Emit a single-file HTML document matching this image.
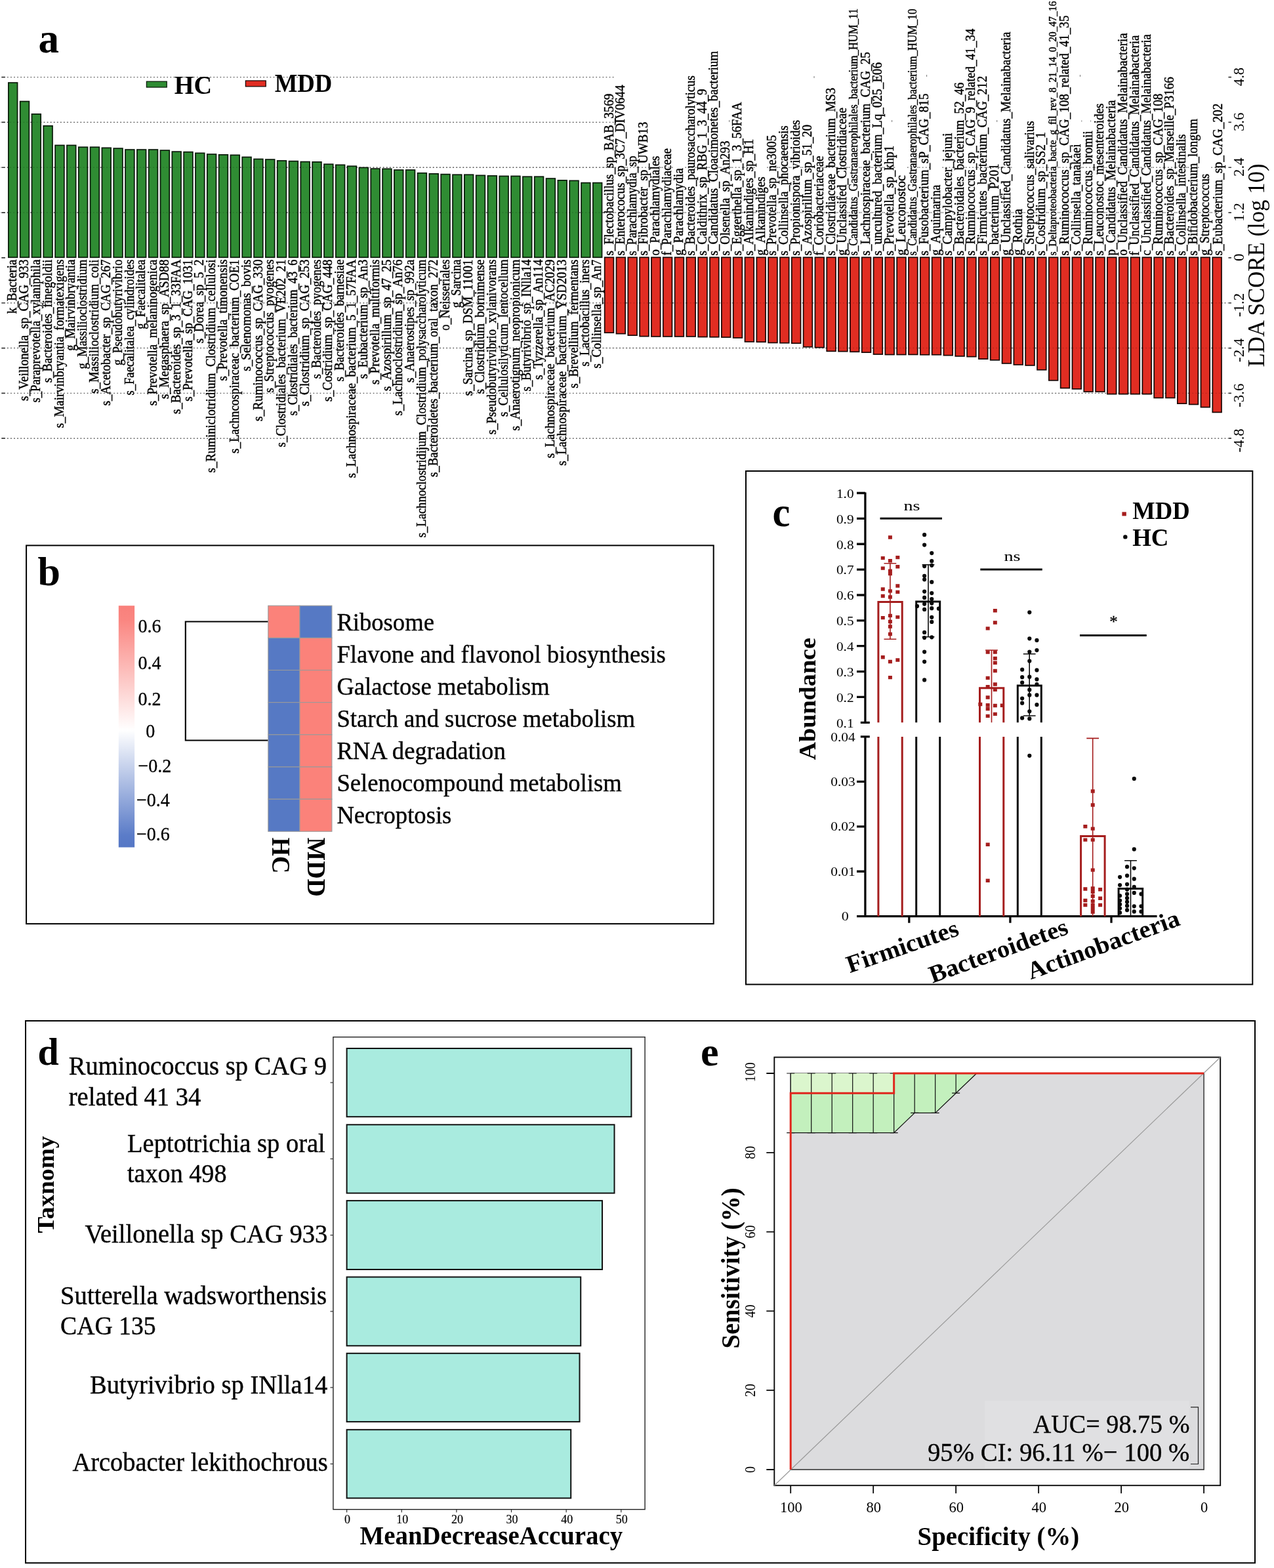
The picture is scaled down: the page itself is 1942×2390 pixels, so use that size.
<!DOCTYPE html>
<html lang="en"><head><meta charset="utf-8"><title>Gut microbiome figure: LEfSe, KEGG heatmap, phylum abundance, random forest and ROC</title>
<style>html,body{margin:0;padding:0;background:#fff}body{width:1942px;height:2390px;overflow:hidden}svg{display:block}text{font-family:"Liberation Serif","Times New Roman",serif;fill:#000}</style>
</head><body>
<svg width="1942" height="2390" viewBox="0 0 1942 2390">
<rect width="1942" height="2390" fill="#fff"/>
<g id="panel-a">
<g stroke="#585858" stroke-width="1.4" stroke-dasharray="1.7 3.37" fill="none">
<path d="M11 117.58H937"/>
<path d="M11 186.41H937"/>
<path d="M11 255.24H937"/>
<path d="M11 324.07H937"/>
<path d="M11 461.73H1872"/>
<path d="M11 530.56H1872"/>
<path d="M11 599.39H1872"/>
<path d="M11 668.22H1872"/>
<path d="M919.62 255.24h17.82M937.44 255.24h17.82M955.26 255.24h17.82M973.08 255.24h17.82M990.9 255.24h17.82M1008.72 255.24h17.82M1044.36 255.24h17.82M1062.18 255.24h17.82M1080 255.24h17.82M1097.82 255.24h17.82M1115.64 255.24h17.82M1133.46 255.24h17.82M1169.1 255.24h17.82M1186.92 255.24h17.82M1204.74 255.24h17.82M1222.56 255.24h17.82M1240.38 255.24h17.82M1258.2 255.24h17.82M1276.02 255.24h17.82M1293.84 255.24h17.82M1311.66 255.24h17.82M1329.48 255.24h17.82M1347.3 255.24h17.82M1382.94 255.24h17.82M1400.76 255.24h17.82M1436.4 255.24h17.82M1454.22 255.24h17.82M1472.04 255.24h17.82M1489.86 255.24h17.82M1507.68 255.24h17.82M1525.5 255.24h17.82M1561.14 255.24h17.82M1578.96 255.24h17.82M1596.78 255.24h17.82M1614.6 255.24h17.82M1632.42 255.24h17.82M1650.24 255.24h17.82M1668.06 255.24h17.82M1685.88 255.24h17.82M1703.7 255.24h17.82M1721.52 255.24h17.82M1739.34 255.24h17.82M1757.16 255.24h17.82M1774.98 255.24h17.82M1792.8 255.24h17.82M1810.62 255.24h17.82M1846.26 255.24h17.82" stroke-opacity="0.8"/>
<path d="M919.62 324.07h17.82M937.44 324.07h17.82M955.26 324.07h17.82M973.08 324.07h17.82M990.9 324.07h17.82M1008.72 324.07h17.82M1026.54 324.07h17.82M1044.36 324.07h17.82M1062.18 324.07h17.82M1080 324.07h17.82M1097.82 324.07h17.82M1115.64 324.07h17.82M1133.46 324.07h17.82M1151.28 324.07h17.82M1169.1 324.07h17.82M1186.92 324.07h17.82M1204.74 324.07h17.82M1222.56 324.07h17.82M1240.38 324.07h17.82M1258.2 324.07h17.82M1276.02 324.07h17.82M1293.84 324.07h17.82M1311.66 324.07h17.82M1329.48 324.07h17.82M1347.3 324.07h17.82M1365.12 324.07h17.82M1382.94 324.07h17.82M1400.76 324.07h17.82M1418.58 324.07h17.82M1436.4 324.07h17.82M1454.22 324.07h17.82M1472.04 324.07h17.82M1489.86 324.07h17.82M1507.68 324.07h17.82M1525.5 324.07h17.82M1543.32 324.07h17.82M1561.14 324.07h17.82M1578.96 324.07h17.82M1596.78 324.07h17.82M1614.6 324.07h17.82M1632.42 324.07h17.82M1650.24 324.07h17.82M1668.06 324.07h17.82M1685.88 324.07h17.82M1703.7 324.07h17.82M1721.52 324.07h17.82M1739.34 324.07h17.82M1757.16 324.07h17.82M1774.98 324.07h17.82M1792.8 324.07h17.82M1810.62 324.07h17.82M1828.44 324.07h17.82M1846.26 324.07h17.82" stroke-opacity="0.8"/>
</g>
<path d="M1412.6 114v3M1359.6 183v3M1519.7 183v3M1646.5 114v3M1648.8 183.5v2M1662.6 183.5v2M1111.7 183v3M1241 116v3" stroke="#777" stroke-width="1" fill="none"/>
<g stroke="#3a3a3a" stroke-width="1.7" fill="none">
<path d="M2.3 117.58h5.6M1872.5 117.58h4.5"/>
<path d="M2.3 186.41h5.6M1872.5 186.41h4.5"/>
<path d="M2.3 255.24h5.6M1872.5 255.24h4.5"/>
<path d="M2.3 324.07h5.6M1872.5 324.07h4.5"/>
<path d="M2.3 392.9h5.6M1872.5 392.9h4.5"/>
<path d="M2.3 461.73h5.6M1872.5 461.73h4.5"/>
<path d="M2.3 530.56h5.6M1872.5 530.56h4.5"/>
<path d="M2.3 599.39h5.6M1872.5 599.39h4.5"/>
<path d="M2.3 668.22h5.6M1872.5 668.22h4.5"/>
</g>
<g fill="#2f8c33" stroke="#0a1a0a" stroke-width="1.7">
<rect x="12.85" y="126.05" width="13.7" height="266.25"/>
<rect x="30.67" y="154.55" width="13.7" height="237.75"/>
<rect x="48.49" y="173.85" width="13.7" height="218.45"/>
<rect x="66.31" y="191.85" width="13.7" height="200.45"/>
<rect x="84.13" y="221.45" width="13.7" height="170.85"/>
<rect x="101.95" y="221.45" width="13.7" height="170.85"/>
<rect x="119.77" y="224.25" width="13.7" height="168.05"/>
<rect x="137.59" y="224.25" width="13.7" height="168.05"/>
<rect x="155.41" y="225.35" width="13.7" height="166.95"/>
<rect x="173.23" y="226.15" width="13.7" height="166.15"/>
<rect x="191.05" y="228.05" width="13.7" height="164.25"/>
<rect x="208.87" y="228.05" width="13.7" height="164.25"/>
<rect x="226.69" y="228.05" width="13.7" height="164.25"/>
<rect x="244.51" y="229.15" width="13.7" height="163.15"/>
<rect x="262.33" y="231.15" width="13.7" height="161.15"/>
<rect x="280.15" y="231.65" width="13.7" height="160.65"/>
<rect x="297.97" y="233.35" width="13.7" height="158.95"/>
<rect x="315.79" y="235.05" width="13.7" height="157.25"/>
<rect x="333.61" y="235.85" width="13.7" height="156.45"/>
<rect x="351.43" y="236.35" width="13.7" height="155.95"/>
<rect x="369.25" y="239.45" width="13.7" height="152.85"/>
<rect x="387.07" y="242.45" width="13.7" height="149.85"/>
<rect x="404.89" y="243.05" width="13.7" height="149.25"/>
<rect x="422.71" y="244.95" width="13.7" height="147.35"/>
<rect x="440.53" y="245.65" width="13.7" height="146.65"/>
<rect x="458.35" y="246.55" width="13.7" height="145.75"/>
<rect x="476.17" y="246.85" width="13.7" height="145.45"/>
<rect x="493.99" y="250.25" width="13.7" height="142.05"/>
<rect x="511.81" y="251.35" width="13.7" height="140.95"/>
<rect x="529.63" y="253.25" width="13.7" height="139.05"/>
<rect x="547.45" y="255.45" width="13.7" height="136.85"/>
<rect x="565.27" y="257.15" width="13.7" height="135.15"/>
<rect x="583.09" y="257.35" width="13.7" height="134.95"/>
<rect x="600.91" y="259.05" width="13.7" height="133.25"/>
<rect x="618.73" y="259.05" width="13.7" height="133.25"/>
<rect x="636.55" y="263.75" width="13.7" height="128.55"/>
<rect x="654.37" y="264.85" width="13.7" height="127.45"/>
<rect x="672.19" y="265.65" width="13.7" height="126.65"/>
<rect x="690.01" y="266.25" width="13.7" height="126.05"/>
<rect x="707.83" y="266.25" width="13.7" height="126.05"/>
<rect x="725.65" y="267.35" width="13.7" height="124.95"/>
<rect x="743.47" y="267.95" width="13.7" height="124.35"/>
<rect x="761.29" y="268.45" width="13.7" height="123.85"/>
<rect x="779.11" y="268.45" width="13.7" height="123.85"/>
<rect x="796.93" y="269.25" width="13.7" height="123.05"/>
<rect x="814.75" y="269.25" width="13.7" height="123.05"/>
<rect x="832.57" y="272.05" width="13.7" height="120.25"/>
<rect x="850.39" y="274.85" width="13.7" height="117.45"/>
<rect x="868.21" y="275.35" width="13.7" height="116.95"/>
<rect x="886.03" y="278.65" width="13.7" height="113.65"/>
<rect x="903.85" y="278.65" width="13.7" height="113.65"/>
</g>
<g fill="#e12d22" stroke="#1a0806" stroke-width="1.7">
<rect x="921.67" y="392.3" width="13.7" height="114.85"/>
<rect x="939.49" y="392.3" width="13.7" height="116.35"/>
<rect x="957.31" y="392.3" width="13.7" height="118.85"/>
<rect x="975.13" y="392.3" width="13.7" height="120.35"/>
<rect x="992.95" y="392.3" width="13.7" height="120.65"/>
<rect x="1010.77" y="392.3" width="13.7" height="120.65"/>
<rect x="1028.59" y="392.3" width="13.7" height="120.65"/>
<rect x="1046.41" y="392.3" width="13.7" height="120.65"/>
<rect x="1064.23" y="392.3" width="13.7" height="121.25"/>
<rect x="1082.05" y="392.3" width="13.7" height="121.45"/>
<rect x="1099.87" y="392.3" width="13.7" height="121.75"/>
<rect x="1117.69" y="392.3" width="13.7" height="122.65"/>
<rect x="1135.51" y="392.3" width="13.7" height="128.65"/>
<rect x="1153.33" y="392.3" width="13.7" height="128.95"/>
<rect x="1171.15" y="392.3" width="13.7" height="130.15"/>
<rect x="1188.97" y="392.3" width="13.7" height="130.45"/>
<rect x="1206.79" y="392.3" width="13.7" height="130.95"/>
<rect x="1224.61" y="392.3" width="13.7" height="136.45"/>
<rect x="1242.43" y="392.3" width="13.7" height="137.35"/>
<rect x="1260.25" y="392.3" width="13.7" height="143.05"/>
<rect x="1278.07" y="392.3" width="13.7" height="143.35"/>
<rect x="1295.89" y="392.3" width="13.7" height="143.95"/>
<rect x="1313.71" y="392.3" width="13.7" height="144.85"/>
<rect x="1331.53" y="392.3" width="13.7" height="147.75"/>
<rect x="1349.35" y="392.3" width="13.7" height="148.25"/>
<rect x="1367.17" y="392.3" width="13.7" height="148.25"/>
<rect x="1384.99" y="392.3" width="13.7" height="148.15"/>
<rect x="1402.81" y="392.3" width="13.7" height="148.45"/>
<rect x="1420.63" y="392.3" width="13.7" height="148.45"/>
<rect x="1438.45" y="392.3" width="13.7" height="149.35"/>
<rect x="1456.27" y="392.3" width="13.7" height="150.65"/>
<rect x="1474.09" y="392.3" width="13.7" height="151.35"/>
<rect x="1491.91" y="392.3" width="13.7" height="154.85"/>
<rect x="1509.73" y="392.3" width="13.7" height="156.55"/>
<rect x="1527.55" y="392.3" width="13.7" height="161.65"/>
<rect x="1545.37" y="392.3" width="13.7" height="163.65"/>
<rect x="1563.19" y="392.3" width="13.7" height="164.65"/>
<rect x="1581.01" y="392.3" width="13.7" height="171.45"/>
<rect x="1598.83" y="392.3" width="13.7" height="187.55"/>
<rect x="1616.65" y="392.3" width="13.7" height="199.25"/>
<rect x="1634.47" y="392.3" width="13.7" height="200.55"/>
<rect x="1652.29" y="392.3" width="13.7" height="204.75"/>
<rect x="1670.11" y="392.3" width="13.7" height="204.75"/>
<rect x="1687.93" y="392.3" width="13.7" height="208.35"/>
<rect x="1705.75" y="392.3" width="13.7" height="208.35"/>
<rect x="1723.57" y="392.3" width="13.7" height="208.35"/>
<rect x="1741.39" y="392.3" width="13.7" height="208.35"/>
<rect x="1759.21" y="392.3" width="13.7" height="214.15"/>
<rect x="1777.03" y="392.3" width="13.7" height="214.15"/>
<rect x="1794.85" y="392.3" width="13.7" height="222.85"/>
<rect x="1812.67" y="392.3" width="13.7" height="224.15"/>
<rect x="1830.49" y="392.3" width="13.7" height="228.35"/>
<rect x="1848.31" y="392.3" width="13.7" height="236.15"/>
</g>
<g stroke="#000" stroke-opacity="0.16" stroke-width="1.4" stroke-dasharray="1.7 3.37" fill="none">
<path d="M0 186.41H920"/>
<path d="M0 255.24H920"/>
<path d="M0 324.07H920"/>
<path d="M920 461.73H1865"/>
<path d="M920 530.56H1865"/>
<path d="M920 599.39H1865"/>
</g>
<g fill="#000" stroke="#000" stroke-width="0.45">
<text font-size="20.5" text-anchor="end" textLength="82.7" lengthAdjust="spacingAndGlyphs" transform="translate(25.3 395.5) rotate(-90)">k_Bacteria</text>
<text font-size="20.5" text-anchor="end" textLength="215.4" lengthAdjust="spacingAndGlyphs" transform="translate(43.12 395.5) rotate(-90)">s_Veillonella_sp_CAG_933</text>
<text font-size="20.5" text-anchor="end" textLength="218.1" lengthAdjust="spacingAndGlyphs" transform="translate(60.94 395.5) rotate(-90)">s_Paraprevotella_xylaniphila</text>
<text font-size="20.5" text-anchor="end" textLength="187.7" lengthAdjust="spacingAndGlyphs" transform="translate(78.76 395.5) rotate(-90)">s_Bacteroides_finegoldii</text>
<text font-size="20.5" text-anchor="end" textLength="256.8" lengthAdjust="spacingAndGlyphs" transform="translate(96.58 395.5) rotate(-90)">s_Mairvinbryantia_formatexigens</text>
<text font-size="20.5" text-anchor="end" textLength="139.3" lengthAdjust="spacingAndGlyphs" transform="translate(114.4 395.5) rotate(-90)">g_Mairvinbryantia</text>
<text font-size="20.5" text-anchor="end" textLength="167" lengthAdjust="spacingAndGlyphs" transform="translate(132.22 395.5) rotate(-90)">g_Massilioclostridium</text>
<text font-size="20.5" text-anchor="end" textLength="204.3" lengthAdjust="spacingAndGlyphs" transform="translate(150.04 395.5) rotate(-90)">s_Massilioclostridium_coli</text>
<text font-size="20.5" text-anchor="end" textLength="222.8" lengthAdjust="spacingAndGlyphs" transform="translate(167.86 395.5) rotate(-90)">s_Acetobacter_sp_CAG_267</text>
<text font-size="20.5" text-anchor="end" textLength="161.5" lengthAdjust="spacingAndGlyphs" transform="translate(185.68 395.5) rotate(-90)">g_Pseudobutyrivibrio</text>
<text font-size="20.5" text-anchor="end" textLength="207.1" lengthAdjust="spacingAndGlyphs" transform="translate(203.5 395.5) rotate(-90)">s_Faecalitalea_cylindroides</text>
<text font-size="20.5" text-anchor="end" textLength="106.2" lengthAdjust="spacingAndGlyphs" transform="translate(221.32 395.5) rotate(-90)">g_Faecalitalea</text>
<text font-size="20.5" text-anchor="end" textLength="222.8" lengthAdjust="spacingAndGlyphs" transform="translate(239.14 395.5) rotate(-90)">s_Prevotella_melaninogenica</text>
<text font-size="20.5" text-anchor="end" textLength="212.6" lengthAdjust="spacingAndGlyphs" transform="translate(256.96 395.5) rotate(-90)">s_Megasphaera_sp_ASD88</text>
<text font-size="20.5" text-anchor="end" textLength="235.5" lengthAdjust="spacingAndGlyphs" transform="translate(274.78 395.5) rotate(-90)">s_Bacteroides_sp_3_1_33FAA</text>
<text font-size="20.5" text-anchor="end" textLength="216.2" lengthAdjust="spacingAndGlyphs" transform="translate(292.6 395.5) rotate(-90)">s_Prevotella_sp_CAG_1031</text>
<text font-size="20.5" text-anchor="end" textLength="127.7" lengthAdjust="spacingAndGlyphs" transform="translate(310.42 395.5) rotate(-90)">s_Dorea_sp_5_2</text>
<text font-size="20.5" text-anchor="end" textLength="325.1" lengthAdjust="spacingAndGlyphs" transform="translate(328.24 395.5) rotate(-90)">s_Ruminiclotridium_Clostridium_cellulosi</text>
<text font-size="20.5" text-anchor="end" textLength="184.9" lengthAdjust="spacingAndGlyphs" transform="translate(346.06 395.5) rotate(-90)">s_Prevotella_timonensis</text>
<text font-size="20.5" text-anchor="end" textLength="295.5" lengthAdjust="spacingAndGlyphs" transform="translate(363.88 395.5) rotate(-90)">s_Lachncospiraceac_bacterium_COE1</text>
<text font-size="20.5" text-anchor="end" textLength="170.3" lengthAdjust="spacingAndGlyphs" transform="translate(381.7 395.5) rotate(-90)">s_Selenomonas_bovis</text>
<text font-size="20.5" text-anchor="end" textLength="246.6" lengthAdjust="spacingAndGlyphs" transform="translate(399.52 395.5) rotate(-90)">s_Ruminococcus_sp_CAG_330</text>
<text font-size="20.5" text-anchor="end" textLength="202.9" lengthAdjust="spacingAndGlyphs" transform="translate(417.34 395.5) rotate(-90)">s_Streptococcus_pyogenes</text>
<text font-size="20.5" text-anchor="end" textLength="285.9" lengthAdjust="spacingAndGlyphs" transform="translate(435.16 395.5) rotate(-90)">s_Clostridiales_bacterium_VE202_21</text>
<text font-size="20.5" text-anchor="end" textLength="238.1" lengthAdjust="spacingAndGlyphs" transform="translate(452.98 395.5) rotate(-90)">s_Clostridiales_bacterium_43_6</text>
<text font-size="20.5" text-anchor="end" textLength="223.6" lengthAdjust="spacingAndGlyphs" transform="translate(470.8 395.5) rotate(-90)">s_Clostridium_sp_CAG_253</text>
<text font-size="20.5" text-anchor="end" textLength="181.8" lengthAdjust="spacingAndGlyphs" transform="translate(488.62 395.5) rotate(-90)">s_Bacteroides_pyogenes</text>
<text font-size="20.5" text-anchor="end" textLength="216.4" lengthAdjust="spacingAndGlyphs" transform="translate(506.44 395.5) rotate(-90)">s_Costridium_sp_CAG_448</text>
<text font-size="20.5" text-anchor="end" textLength="186.1" lengthAdjust="spacingAndGlyphs" transform="translate(524.26 395.5) rotate(-90)">s_Bacteroides_barnesiae</text>
<text font-size="20.5" text-anchor="end" textLength="333" lengthAdjust="spacingAndGlyphs" transform="translate(542.08 395.5) rotate(-90)">s_Lachnospiraceae_bacterium_5_1_57FAA</text>
<text font-size="20.5" text-anchor="end" textLength="181.8" lengthAdjust="spacingAndGlyphs" transform="translate(559.9 395.5) rotate(-90)">s_Eubacterium_sp_An3</text>
<text font-size="20.5" text-anchor="end" textLength="190.4" lengthAdjust="spacingAndGlyphs" transform="translate(577.72 395.5) rotate(-90)">s_Prevotella_multiformis</text>
<text font-size="20.5" text-anchor="end" textLength="200.5" lengthAdjust="spacingAndGlyphs" transform="translate(595.54 395.5) rotate(-90)">s_Azospirillum_sp_47_25</text>
<text font-size="20.5" text-anchor="end" textLength="238" lengthAdjust="spacingAndGlyphs" transform="translate(613.36 395.5) rotate(-90)">s_Lachnoclostridium_sp_An76</text>
<text font-size="20.5" text-anchor="end" textLength="187.5" lengthAdjust="spacingAndGlyphs" transform="translate(631.18 395.5) rotate(-90)">s_Anaerostipes_sp_992a</text>
<text font-size="20.5" text-anchor="end" textLength="423.7" lengthAdjust="spacingAndGlyphs" transform="translate(649 395.5) rotate(-90)">s_Lachnoclostridijum_Clostridium_polysaccharolyticum</text>
<text font-size="20.5" text-anchor="end" textLength="331.5" lengthAdjust="spacingAndGlyphs" transform="translate(666.82 395.5) rotate(-90)">s_Bacteroidetes_bacterium_oral_taxon_272</text>
<text font-size="20.5" text-anchor="end" textLength="108.3" lengthAdjust="spacingAndGlyphs" transform="translate(684.64 395.5) rotate(-90)">o_Neisseriales</text>
<text font-size="20.5" text-anchor="end" textLength="73.8" lengthAdjust="spacingAndGlyphs" transform="translate(702.46 395.5) rotate(-90)">g_Sarcina</text>
<text font-size="20.5" text-anchor="end" textLength="207.7" lengthAdjust="spacingAndGlyphs" transform="translate(720.28 395.5) rotate(-90)">s_Sarcina_sp_DSM_11001</text>
<text font-size="20.5" text-anchor="end" textLength="204.8" lengthAdjust="spacingAndGlyphs" transform="translate(738.1 395.5) rotate(-90)">s_Clostridium_bornimense</text>
<text font-size="20.5" text-anchor="end" textLength="266.8" lengthAdjust="spacingAndGlyphs" transform="translate(755.92 395.5) rotate(-90)">s_Pseudobutyrivibrio_xylanivorans</text>
<text font-size="20.5" text-anchor="end" textLength="239.4" lengthAdjust="spacingAndGlyphs" transform="translate(773.74 395.5) rotate(-90)">s_Cellulosilyticum_lentocellum</text>
<text font-size="20.5" text-anchor="end" textLength="261" lengthAdjust="spacingAndGlyphs" transform="translate(791.56 395.5) rotate(-90)">s_Anaerotignum_neopropionicum</text>
<text font-size="20.5" text-anchor="end" textLength="201.1" lengthAdjust="spacingAndGlyphs" transform="translate(809.38 395.5) rotate(-90)">s_Butyrivibrio_sp_INlla14</text>
<text font-size="20.5" text-anchor="end" textLength="183.2" lengthAdjust="spacingAndGlyphs" transform="translate(827.2 395.5) rotate(-90)">s_Tyzzerella_sp_An114</text>
<text font-size="20.5" text-anchor="end" textLength="302.8" lengthAdjust="spacingAndGlyphs" transform="translate(845.02 395.5) rotate(-90)">s_Lachnospiraceae_bacterium_AC2029</text>
<text font-size="20.5" text-anchor="end" textLength="314.3" lengthAdjust="spacingAndGlyphs" transform="translate(862.84 395.5) rotate(-90)">s_Lachnospiraceae_bacterium_YSD2013</text>
<text font-size="20.5" text-anchor="end" textLength="196.2" lengthAdjust="spacingAndGlyphs" transform="translate(880.66 395.5) rotate(-90)">s_Brevellium_fermentans</text>
<text font-size="20.5" text-anchor="end" textLength="163.1" lengthAdjust="spacingAndGlyphs" transform="translate(898.48 395.5) rotate(-90)">s_Lactobacillus_iners</text>
<text font-size="20.5" text-anchor="end" textLength="165.9" lengthAdjust="spacingAndGlyphs" transform="translate(916.3 395.5) rotate(-90)">s_Collinsella_sp_An7</text>
<text font-size="20.5" textLength="247" lengthAdjust="spacingAndGlyphs" transform="translate(934.6 389.6) rotate(-90)">s_Flectobacillus_sp_BAB_3569</text>
<text font-size="20.5" textLength="260" lengthAdjust="spacingAndGlyphs" transform="translate(952.42 389.6) rotate(-90)">s_Enterococus_sp_3C7_DIV0644</text>
<text font-size="20.5" textLength="152" lengthAdjust="spacingAndGlyphs" transform="translate(970.24 389.6) rotate(-90)">s_Parachlamydia_sp</text>
<text font-size="20.5" textLength="203.8" lengthAdjust="spacingAndGlyphs" transform="translate(987.46 389.6) rotate(-90)">s_Fibrobacter_sp_UWB13</text>
<text font-size="20.5" textLength="152" lengthAdjust="spacingAndGlyphs" transform="translate(1005.28 389.6) rotate(-90)">o_Parachlamydiales</text>
<text font-size="20.5" textLength="163.5" lengthAdjust="spacingAndGlyphs" transform="translate(1023.1 389.6) rotate(-90)">f_Parachlamydiaceae</text>
<text font-size="20.5" textLength="133.3" lengthAdjust="spacingAndGlyphs" transform="translate(1040.92 389.6) rotate(-90)">g_Parachlamydia</text>
<text font-size="20.5" textLength="274.4" lengthAdjust="spacingAndGlyphs" transform="translate(1058.74 389.6) rotate(-90)">s_Bacteroides_paurosaccharolyticus</text>
<text font-size="20.5" textLength="254.2" lengthAdjust="spacingAndGlyphs" transform="translate(1076.56 389.6) rotate(-90)">s_Caldithrix_sp_RBG_1_3_44_9</text>
<text font-size="20.5" textLength="311.8" lengthAdjust="spacingAndGlyphs" transform="translate(1094.38 389.6) rotate(-90)">s_Candidatus_Cloacimonetes_bacterium</text>
<text font-size="20.5" textLength="175" lengthAdjust="spacingAndGlyphs" transform="translate(1112.2 389.6) rotate(-90)">s_Olsenella_sp_An293</text>
<text font-size="20.5" textLength="234.1" lengthAdjust="spacingAndGlyphs" transform="translate(1130.02 389.6) rotate(-90)">s_Eggerthella_sp_1_3_56FAA</text>
<text font-size="20.5" textLength="177.9" lengthAdjust="spacingAndGlyphs" transform="translate(1147.84 389.6) rotate(-90)">s_Alkanindiges_sp_H1</text>
<text font-size="20.5" textLength="120.3" lengthAdjust="spacingAndGlyphs" transform="translate(1165.66 389.6) rotate(-90)">g_Alkanindiges</text>
<text font-size="20.5" textLength="183.7" lengthAdjust="spacingAndGlyphs" transform="translate(1183.48 389.6) rotate(-90)">s_Prevotella_sp_ne3005</text>
<text font-size="20.5" textLength="198.1" lengthAdjust="spacingAndGlyphs" transform="translate(1201.3 389.6) rotate(-90)">s_Collinsella_phocaeensis</text>
<text font-size="20.5" textLength="206.7" lengthAdjust="spacingAndGlyphs" transform="translate(1219.12 389.6) rotate(-90)">s_Propionispora_vibrioides</text>
<text font-size="20.5" textLength="199.5" lengthAdjust="spacingAndGlyphs" transform="translate(1236.94 389.6) rotate(-90)">s_Azospirillum_sp_51_20</text>
<text font-size="20.5" textLength="152" lengthAdjust="spacingAndGlyphs" transform="translate(1254.76 389.6) rotate(-90)">f_Coriobacteriaceae</text>
<text font-size="20.5" textLength="255.7" lengthAdjust="spacingAndGlyphs" transform="translate(1272.58 389.6) rotate(-90)">s_Clostridiaceae_bacterium_MS3</text>
<text font-size="20.5" textLength="225.4" lengthAdjust="spacingAndGlyphs" transform="translate(1290.4 389.6) rotate(-90)">g_Unclassifed_Clostridiaceae</text>
<text font-size="18" textLength="376.6" lengthAdjust="spacingAndGlyphs" transform="translate(1307.47 389.6) rotate(-90)">s_Candidatus_Gastranaerophilales_bacterium_HUM_11</text>
<text font-size="20.5" textLength="310.4" lengthAdjust="spacingAndGlyphs" transform="translate(1326.04 389.6) rotate(-90)">s_Lachnospiraceae_bacterium_CAG_25</text>
<text font-size="20.5" textLength="294.6" lengthAdjust="spacingAndGlyphs" transform="translate(1343.86 389.6) rotate(-90)">s_uncultured_bacterium_Lq_025_E06</text>
<text font-size="20.5" textLength="167.8" lengthAdjust="spacingAndGlyphs" transform="translate(1361.68 389.6) rotate(-90)">s_Prevotella_sp_khp1</text>
<text font-size="20.5" textLength="122.4" lengthAdjust="spacingAndGlyphs" transform="translate(1379.5 389.6) rotate(-90)">g_Leuconostoc</text>
<text font-size="18" textLength="376.2" lengthAdjust="spacingAndGlyphs" transform="translate(1396.57 389.6) rotate(-90)">s_Candidatus_Gastranaerophilales_bacterium_HUM_10</text>
<text font-size="20.5" textLength="247.1" lengthAdjust="spacingAndGlyphs" transform="translate(1415.14 389.6) rotate(-90)">s_Fusobacterium_sP_CAG_815</text>
<text font-size="20.5" textLength="108" lengthAdjust="spacingAndGlyphs" transform="translate(1432.96 389.6) rotate(-90)">g_Aquimarina</text>
<text font-size="20.5" textLength="186.8" lengthAdjust="spacingAndGlyphs" transform="translate(1450.78 389.6) rotate(-90)">s_Campylobacter_jejuni</text>
<text font-size="20.5" textLength="263.9" lengthAdjust="spacingAndGlyphs" transform="translate(1468.6 389.6) rotate(-90)">s_Bacteroidales_bacterium_52_46</text>
<text font-size="20.5" textLength="346" lengthAdjust="spacingAndGlyphs" transform="translate(1486.42 389.6) rotate(-90)">s_Ruminococcus_sp_CAG_9_related_41_34</text>
<text font-size="20.5" textLength="273.9" lengthAdjust="spacingAndGlyphs" transform="translate(1504.24 389.6) rotate(-90)">s_Firmicutes_bacterium_CAG_212</text>
<text font-size="20.5" textLength="139.9" lengthAdjust="spacingAndGlyphs" transform="translate(1522.06 389.6) rotate(-90)">s_bacterium_P201</text>
<text font-size="20.5" textLength="341" lengthAdjust="spacingAndGlyphs" transform="translate(1539.88 389.6) rotate(-90)">g_Unclassified_Candidatus_Melainabacteria</text>
<text font-size="20.5" textLength="71.1" lengthAdjust="spacingAndGlyphs" transform="translate(1557.7 389.6) rotate(-90)">g_Rothia</text>
<text font-size="20.5" textLength="205.2" lengthAdjust="spacingAndGlyphs" transform="translate(1575.52 389.6) rotate(-90)">s_Streptococcus_salivarius</text>
<text font-size="20.5" textLength="188.5" lengthAdjust="spacingAndGlyphs" transform="translate(1593.34 389.6) rotate(-90)">s_Costridium_sp_SS2_1</text>
<text font-size="16.6" textLength="387.9" lengthAdjust="spacingAndGlyphs" transform="translate(1609.99 389.6) rotate(-90)">s_Deltaproteobacteria_bacte_g_fil_rev_8_21_14_0_20_47_16</text>
<text font-size="20.5" textLength="366.1" lengthAdjust="spacingAndGlyphs" transform="translate(1628.98 389.6) rotate(-90)">s_Ruminococcus_sp_CAG_108_related_41_35</text>
<text font-size="20.5" textLength="170" lengthAdjust="spacingAndGlyphs" transform="translate(1646.8 389.6) rotate(-90)">s_Collinsella_tanakaei</text>
<text font-size="20.5" textLength="190.1" lengthAdjust="spacingAndGlyphs" transform="translate(1664.62 389.6) rotate(-90)">s_Ruminococcus_bromii</text>
<text font-size="20.5" textLength="232" lengthAdjust="spacingAndGlyphs" transform="translate(1682.44 389.6) rotate(-90)">s_Leuconostoc_mesenteroides</text>
<text font-size="20.5" textLength="237.1" lengthAdjust="spacingAndGlyphs" transform="translate(1700.26 389.6) rotate(-90)">p_Candidatus_Melainabacteria</text>
<text font-size="20.5" textLength="339.3" lengthAdjust="spacingAndGlyphs" transform="translate(1718.08 389.6) rotate(-90)">o_Unclassified_Candidatus_Melainabacteria</text>
<text font-size="20.5" textLength="336" lengthAdjust="spacingAndGlyphs" transform="translate(1735.9 389.6) rotate(-90)">f_Unclassified_Candidatus_Melainabacteria</text>
<text font-size="20.5" textLength="337.6" lengthAdjust="spacingAndGlyphs" transform="translate(1753.72 389.6) rotate(-90)">c_Unclassified_Candidatus_Melainabacteria</text>
<text font-size="20.5" textLength="247.1" lengthAdjust="spacingAndGlyphs" transform="translate(1771.54 389.6) rotate(-90)">s_Ruminococcus_sp_CAG_108</text>
<text font-size="20.5" textLength="272.3" lengthAdjust="spacingAndGlyphs" transform="translate(1789.36 389.6) rotate(-90)">s_Bacteroides_sp_Marseille_P3166</text>
<text font-size="20.5" textLength="185.1" lengthAdjust="spacingAndGlyphs" transform="translate(1807.18 389.6) rotate(-90)">s_Collinsella_intestinalis</text>
<text font-size="20.5" textLength="208.6" lengthAdjust="spacingAndGlyphs" transform="translate(1825 389.6) rotate(-90)">s_Bifidobacterium_longum</text>
<text font-size="20.5" textLength="124.8" lengthAdjust="spacingAndGlyphs" transform="translate(1842.82 389.6) rotate(-90)">g_Streptococcus</text>
<text font-size="20.5" textLength="232" lengthAdjust="spacingAndGlyphs" transform="translate(1863.44 389.6) rotate(-90)">s_Eubacterium_sp_CAG_202</text>
</g>
<text font-size="23" text-anchor="middle" transform="translate(1896.4 116.98) rotate(-90)" textLength="28.5" lengthAdjust="spacingAndGlyphs">4.8</text>
<text font-size="23" text-anchor="middle" transform="translate(1896.4 185.81) rotate(-90)" textLength="28.5" lengthAdjust="spacingAndGlyphs">3.6</text>
<text font-size="23" text-anchor="middle" transform="translate(1896.4 254.64) rotate(-90)" textLength="28.5" lengthAdjust="spacingAndGlyphs">2.4</text>
<text font-size="23" text-anchor="middle" transform="translate(1896.4 323.47) rotate(-90)" textLength="28.5" lengthAdjust="spacingAndGlyphs">1.2</text>
<text font-size="23" text-anchor="middle" transform="translate(1896.4 392.3) rotate(-90)" textLength="11.5" lengthAdjust="spacingAndGlyphs">0</text>
<text font-size="23" text-anchor="middle" transform="translate(1896.4 465.03) rotate(-90)" textLength="36.2" lengthAdjust="spacingAndGlyphs">-1.2</text>
<text font-size="23" text-anchor="middle" transform="translate(1896.4 533.86) rotate(-90)" textLength="36.2" lengthAdjust="spacingAndGlyphs">-2.4</text>
<text font-size="23" text-anchor="middle" transform="translate(1896.4 602.69) rotate(-90)" textLength="36.2" lengthAdjust="spacingAndGlyphs">-3.6</text>
<text font-size="23" text-anchor="middle" transform="translate(1896.4 671.52) rotate(-90)" textLength="36.2" lengthAdjust="spacingAndGlyphs">-4.8</text>
<text font-size="35" text-anchor="middle" transform="translate(1927.2 404.5) rotate(-90)" textLength="310" lengthAdjust="spacingAndGlyphs">LDA SCORE (log 10)</text>
<rect x="223.4" y="124.2" width="30.8" height="8.8" fill="#2f8c33" stroke="#0c1f0c" stroke-width="1.3"/>
<rect x="374.4" y="123" width="30.8" height="8.8" fill="#e12d22" stroke="#1f0a08" stroke-width="1.3"/>
<text font-size="41" font-weight="bold" x="265.8" y="142.6" textLength="57.3" lengthAdjust="spacingAndGlyphs">HC</text>
<text font-size="41" font-weight="bold" x="418.7" y="140" textLength="87.7" lengthAdjust="spacingAndGlyphs">MDD</text>
<text font-size="63" font-weight="bold" x="58.6" y="79.6">a</text>
</g>
<g id="panel-b">
<defs><linearGradient id="cb" x1="0" y1="0" x2="0" y2="1"><stop offset="0" stop-color="#f9807b"/><stop offset="0.06" stop-color="#fa8681"/><stop offset="0.515" stop-color="#ffffff"/><stop offset="0.95" stop-color="#5b7cc8"/><stop offset="1" stop-color="#5577c5"/></linearGradient></defs>
<rect x="40.1" y="831.4" width="1047.6" height="576.7" fill="#fff" stroke="#000" stroke-width="2"/>
<text font-size="62" font-weight="bold" x="57.4" y="892.3">b</text>
<rect x="180.8" y="923.2" width="24.3" height="368.3" fill="url(#cb)"/>
<text font-size="29.68" x="210.4" y="964.2" textLength="35" lengthAdjust="spacingAndGlyphs" stroke="#111" stroke-width="0.35">0.6</text>
<text font-size="29.68" x="210.4" y="1020.2" textLength="35" lengthAdjust="spacingAndGlyphs" stroke="#111" stroke-width="0.35">0.4</text>
<text font-size="29.68" x="210.4" y="1075.3" textLength="35" lengthAdjust="spacingAndGlyphs" stroke="#111" stroke-width="0.35">0.2</text>
<text font-size="29.68" x="222.3" y="1124.4" textLength="14" lengthAdjust="spacingAndGlyphs" stroke="#111" stroke-width="0.35">0</text>
<text font-size="29.68" x="210.4" y="1177.3" textLength="50.79" lengthAdjust="spacingAndGlyphs" stroke="#111" stroke-width="0.35">−0.2</text>
<text font-size="29.68" x="208" y="1228.6" textLength="50.79" lengthAdjust="spacingAndGlyphs" stroke="#111" stroke-width="0.35">−0.4</text>
<text font-size="29.68" x="208" y="1280.9" textLength="50.79" lengthAdjust="spacingAndGlyphs" stroke="#111" stroke-width="0.35">−0.6</text>
<path d="M408.8 947.5H282.8V1128.5H408.8" fill="none" stroke="#000" stroke-width="2.1"/>
<g stroke="#9a9a9a" stroke-width="1.1">
<rect x="408.8" y="923.2" width="48.2" height="49.16" fill="#fb827a"/>
<rect x="457" y="923.2" width="48.9" height="49.16" fill="#5679c4"/>
<rect x="408.8" y="972.36" width="48.2" height="49.16" fill="#5679c4"/>
<rect x="457" y="972.36" width="48.9" height="49.16" fill="#fb827a"/>
<rect x="408.8" y="1021.51" width="48.2" height="49.16" fill="#5679c4"/>
<rect x="457" y="1021.51" width="48.9" height="49.16" fill="#fb827a"/>
<rect x="408.8" y="1070.67" width="48.2" height="49.16" fill="#5679c4"/>
<rect x="457" y="1070.67" width="48.9" height="49.16" fill="#fb827a"/>
<rect x="408.8" y="1119.83" width="48.2" height="49.16" fill="#5679c4"/>
<rect x="457" y="1119.83" width="48.9" height="49.16" fill="#fb827a"/>
<rect x="408.8" y="1168.99" width="48.2" height="49.16" fill="#5679c4"/>
<rect x="457" y="1168.99" width="48.9" height="49.16" fill="#fb827a"/>
<rect x="408.8" y="1218.14" width="48.2" height="49.16" fill="#5679c4"/>
<rect x="457" y="1218.14" width="48.9" height="49.16" fill="#fb827a"/>
</g>
<text font-size="38.27" x="513.4" y="961.1" textLength="148.52" lengthAdjust="spacingAndGlyphs" stroke="#111" stroke-width="0.45">Ribosome</text>
<text font-size="38.27" x="513.4" y="1010.1" textLength="501.43" lengthAdjust="spacingAndGlyphs" stroke="#111" stroke-width="0.45">Flavone and flavonol biosynthesis</text>
<text font-size="38.27" x="513.4" y="1059" textLength="324.38" lengthAdjust="spacingAndGlyphs" stroke="#111" stroke-width="0.45">Galactose metabolism</text>
<text font-size="38.27" x="513.4" y="1107.5" textLength="454.58" lengthAdjust="spacingAndGlyphs" stroke="#111" stroke-width="0.45">Starch and sucrose metabolism</text>
<text font-size="38.27" x="513.4" y="1156.8" textLength="257.31" lengthAdjust="spacingAndGlyphs" stroke="#111" stroke-width="0.45">RNA degradation</text>
<text font-size="38.27" x="513.4" y="1205.8" textLength="434.28" lengthAdjust="spacingAndGlyphs" stroke="#111" stroke-width="0.45">Selenocompound metabolism</text>
<text font-size="38.27" x="513.4" y="1254.7" textLength="174.93" lengthAdjust="spacingAndGlyphs" stroke="#111" stroke-width="0.45">Necroptosis</text>
<text font-size="40" font-weight="bold" textLength="54.7" lengthAdjust="spacingAndGlyphs" transform="translate(415.3 1276.6) rotate(90)">HC</text>
<text font-size="40" font-weight="bold" textLength="90" lengthAdjust="spacingAndGlyphs" transform="translate(469.2 1276.6) rotate(90)">MDD</text>
</g>
<g id="panel-c">
<rect x="1137" y="718" width="772.3" height="782.5" fill="#fff" stroke="#000" stroke-width="2"/>
<text font-size="63.5" font-weight="bold" x="1177.4" y="801.8" textLength="26.8" lengthAdjust="spacingAndGlyphs">c</text>
<path d="M1318.9 750.4V1102.43M1318.9 1121.8V1396.7M1306 751.5H1318.9M1306 790.37H1318.9M1306 829.24H1318.9M1306 868.11H1318.9M1306 906.98H1318.9M1306 945.85H1318.9M1306 984.72H1318.9M1306 1023.59H1318.9M1306 1062.46H1318.9M1311.8 1101.33H1325.8M1311.8 1122.9H1325.8M1306 1191.35H1318.9M1306 1259.8H1318.9M1306 1328.25H1318.9M1306 1396.7H1763.6M1385.8 1396.7v10M1539.9 1396.7v10M1694 1396.7v10" fill="none" stroke="#0a0a0a" stroke-width="3.3"/>
<text x="1301.5" y="758.8" font-size="18.5" text-anchor="end" textLength="26.5" lengthAdjust="spacingAndGlyphs">1.0</text>
<text x="1301.5" y="797.67" font-size="18.5" text-anchor="end" textLength="26.5" lengthAdjust="spacingAndGlyphs">0.9</text>
<text x="1301.5" y="836.54" font-size="18.5" text-anchor="end" textLength="26.5" lengthAdjust="spacingAndGlyphs">0.8</text>
<text x="1301.5" y="875.41" font-size="18.5" text-anchor="end" textLength="26.5" lengthAdjust="spacingAndGlyphs">0.7</text>
<text x="1301.5" y="914.28" font-size="18.5" text-anchor="end" textLength="26.5" lengthAdjust="spacingAndGlyphs">0.6</text>
<text x="1301.5" y="953.15" font-size="18.5" text-anchor="end" textLength="26.5" lengthAdjust="spacingAndGlyphs">0.5</text>
<text x="1301.5" y="992.02" font-size="18.5" text-anchor="end" textLength="26.5" lengthAdjust="spacingAndGlyphs">0.4</text>
<text x="1301.5" y="1030.89" font-size="18.5" text-anchor="end" textLength="26.5" lengthAdjust="spacingAndGlyphs">0.3</text>
<text x="1301.5" y="1069.76" font-size="18.5" text-anchor="end" textLength="26.5" lengthAdjust="spacingAndGlyphs">0.2</text>
<text x="1301.5" y="1108.63" font-size="18.5" text-anchor="end" textLength="26.5" lengthAdjust="spacingAndGlyphs">0.1</text>
<text x="1303.7" y="1129.5" font-size="18.5" text-anchor="end" textLength="37.5" lengthAdjust="spacingAndGlyphs">0.04</text>
<text x="1303.7" y="1197.95" font-size="18.5" text-anchor="end" textLength="37.5" lengthAdjust="spacingAndGlyphs">0.03</text>
<text x="1303.7" y="1266.4" font-size="18.5" text-anchor="end" textLength="37.5" lengthAdjust="spacingAndGlyphs">0.02</text>
<text x="1303.7" y="1334.85" font-size="18.5" text-anchor="end" textLength="37.5" lengthAdjust="spacingAndGlyphs">0.01</text>
<text x="1293.7" y="1403.3" font-size="18.5" text-anchor="end" textLength="11" lengthAdjust="spacingAndGlyphs">0</text>
<text font-size="36.5" text-anchor="middle" font-weight="bold" transform="translate(1242.6 1065.3) rotate(-90)" textLength="186.5" lengthAdjust="spacingAndGlyphs">Abundance</text>
<path d="M1338.9 1101.33V917.6H1375.2V1101.33M1338.9 1122.9V1396.7M1375.2 1122.9V1396.7" fill="none" stroke="#a51d1d" stroke-width="3.0"/>
<path d="M1396.7 1101.33V917H1432.7V1101.33M1396.7 1122.9V1396.7M1432.7 1122.9V1396.7" fill="none" stroke="#0a0a0a" stroke-width="3.0"/>
<path d="M1493.5 1101.33V1048.8H1529.8V1101.33M1493.5 1122.9V1396.7M1529.8 1122.9V1396.7" fill="none" stroke="#a51d1d" stroke-width="3.0"/>
<path d="M1551.3 1101.33V1045H1587.3V1101.33M1551.3 1122.9V1396.7M1587.3 1122.9V1396.7" fill="none" stroke="#0a0a0a" stroke-width="3.0"/>
<path d="M1647.6 1396.7V1274.5H1684.1V1396.7" fill="none" stroke="#a51d1d" stroke-width="3.0"/>
<path d="M1705.1 1396.7V1354.4H1741.7V1396.7" fill="none" stroke="#0a0a0a" stroke-width="3.0"/>
<path d="M1356.9 858.8V974.3M1347.5 858.8h18.8M1347.5 974.3h18.8" fill="none" stroke="#a51d1d" stroke-width="1.6"/>
<path d="M1415 860.8V970.8M1405.6 860.8h18.8M1405.6 970.8h18.8" fill="none" stroke="#0a0a0a" stroke-width="1.6"/>
<path d="M1511.5 991V1101.33M1502.1 991h18.8" fill="none" stroke="#a51d1d" stroke-width="1.6"/>
<path d="M1569.2 996.8V1091M1559.8 996.8h18.8M1559.8 1091h18.8" fill="none" stroke="#0a0a0a" stroke-width="1.6"/>
<path d="M1665.7 1125.4V1396.7M1656.3 1125.4h18.8" fill="none" stroke="#a51d1d" stroke-width="1.6"/>
<path d="M1723.5 1311.7V1396.7M1714.1 1311.7h18.8" fill="none" stroke="#0a0a0a" stroke-width="1.6"/>
<path d="M1341.5 790.3H1436M1494.3 867.9H1588.8M1646 968.4H1747.8" fill="none" stroke="#0a0a0a" stroke-width="3.0"/>
<text x="1389.9" y="777.6" font-size="22" text-anchor="middle" textLength="25" lengthAdjust="spacingAndGlyphs">ns</text>
<text x="1543" y="855" font-size="22" text-anchor="middle" textLength="25" lengthAdjust="spacingAndGlyphs">ns</text>
<text x="1697.6" y="955.5" font-size="25" text-anchor="middle" stroke="#000" stroke-width="0.3">*</text>
<path d="M1353.91 816.26h6v5.4h-6zM1342.76 847.94h6v5.4h-6zM1365.32 846.93h6v5.4h-6zM1353.91 852h6v5.4h-6zM1342.76 863.4h6v5.4h-6zM1365.32 861.12h6v5.4h-6zM1353.91 867.46h6v5.4h-6zM1353.91 871.77h6v5.4h-6zM1365.32 890.27h6v5.4h-6zM1342.76 895.34h6v5.4h-6zM1353.91 898.13h6v5.4h-6zM1365.32 899.65h6v5.4h-6zM1342.76 905.73h6v5.4h-6zM1353.91 907.25h6v5.4h-6zM1353.91 935.64h6v5.4h-6zM1342.76 938.93h6v5.4h-6zM1365.32 937.92h6v5.4h-6zM1353.91 944.76h6v5.4h-6zM1353.91 952.37h6v5.4h-6zM1353.91 963.77h6v5.4h-6zM1342.76 999h6v5.4h-6zM1365.32 1003.31h6v5.4h-6zM1353.91 1005.85h6v5.4h-6zM1353.91 1029.92h6v5.4h-6zM1513.84 928.04h6v5.4h-6zM1513.84 946.28h6v5.4h-6zM1502.69 955.15h6v5.4h-6zM1502.69 991.4h6v5.4h-6zM1513.84 991.4h6v5.4h-6zM1513.84 1000.78h6v5.4h-6zM1513.84 1007.62h6v5.4h-6zM1513.84 1019.79h6v5.4h-6zM1502.69 1030.68h6v5.4h-6zM1513.84 1040.31h6v5.4h-6zM1502.69 1044.12h6v5.4h-6zM1513.84 1048.68h6v5.4h-6zM1502.69 1060.34h6v5.4h-6zM1491.28 1070.73h6v5.4h-6zM1502.69 1072h6v5.4h-6zM1513.84 1072.76h6v5.4h-6zM1524.74 1072.5h6v5.4h-6zM1502.69 1077.83h6v5.4h-6zM1513.84 1085.68h6v5.4h-6zM1502.69 1088.72h6v5.4h-6zM1502.69 1284.49h6v5.4h-6zM1502.69 1339.49h6v5.4h-6zM1662.74 1203.25h6v5.4h-6zM1662.74 1224.27h6v5.4h-6zM1651.35 1257.11h6v5.4h-6zM1662.74 1260.39h6v5.4h-6zM1651.35 1277.47h6v5.4h-6zM1662.74 1277.47h6v5.4h-6zM1662.74 1323.44h6v5.4h-6zM1651.35 1352.34h6v5.4h-6zM1662.74 1351.24h6v5.4h-6zM1674.12 1352.99h6v5.4h-6zM1662.74 1356.71h6v5.4h-6zM1662.74 1363.28h6v5.4h-6zM1674.12 1366.56h6v5.4h-6zM1651.35 1369.85h6v5.4h-6zM1662.74 1370.94h6v5.4h-6zM1651.35 1376.85h6v5.4h-6zM1662.74 1376.85h6v5.4h-6zM1674.12 1376.85h6v5.4h-6zM1662.74 1381.89h6v5.4h-6zM1662.74 1387.36h6v5.4h-6z" fill="#a51d1d"/>
<path d="M1406.02 815.16a3.1 3.1 0 1 0 6.2 0a3.1 3.1 0 1 0 -6.2 0zM1406.02 830.62a3.1 3.1 0 1 0 6.2 0a3.1 3.1 0 1 0 -6.2 0zM1417.17 843.04a3.1 3.1 0 1 0 6.2 0a3.1 3.1 0 1 0 -6.2 0zM1417.17 855.21a3.1 3.1 0 1 0 6.2 0a3.1 3.1 0 1 0 -6.2 0zM1406.02 863.06a3.1 3.1 0 1 0 6.2 0a3.1 3.1 0 1 0 -6.2 0zM1417.17 861.8a3.1 3.1 0 1 0 6.2 0a3.1 3.1 0 1 0 -6.2 0zM1406.02 877.76a3.1 3.1 0 1 0 6.2 0a3.1 3.1 0 1 0 -6.2 0zM1406.02 883.34a3.1 3.1 0 1 0 6.2 0a3.1 3.1 0 1 0 -6.2 0zM1417.17 887.14a3.1 3.1 0 1 0 6.2 0a3.1 3.1 0 1 0 -6.2 0zM1406.02 901.59a3.1 3.1 0 1 0 6.2 0a3.1 3.1 0 1 0 -6.2 0zM1417.17 904.12a3.1 3.1 0 1 0 6.2 0a3.1 3.1 0 1 0 -6.2 0zM1406.02 910.97a3.1 3.1 0 1 0 6.2 0a3.1 3.1 0 1 0 -6.2 0zM1417.17 912.99a3.1 3.1 0 1 0 6.2 0a3.1 3.1 0 1 0 -6.2 0zM1394.87 923.89a3.1 3.1 0 1 0 6.2 0a3.1 3.1 0 1 0 -6.2 0zM1406.02 920.6a3.1 3.1 0 1 0 6.2 0a3.1 3.1 0 1 0 -6.2 0zM1417.17 919.58a3.1 3.1 0 1 0 6.2 0a3.1 3.1 0 1 0 -6.2 0zM1427.82 927.69a3.1 3.1 0 1 0 6.2 0a3.1 3.1 0 1 0 -6.2 0zM1406.02 928.96a3.1 3.1 0 1 0 6.2 0a3.1 3.1 0 1 0 -6.2 0zM1417.17 927.19a3.1 3.1 0 1 0 6.2 0a3.1 3.1 0 1 0 -6.2 0zM1417.17 940.87a3.1 3.1 0 1 0 6.2 0a3.1 3.1 0 1 0 -6.2 0zM1417.17 947.97a3.1 3.1 0 1 0 6.2 0a3.1 3.1 0 1 0 -6.2 0zM1406.02 963.94a3.1 3.1 0 1 0 6.2 0a3.1 3.1 0 1 0 -6.2 0zM1406.02 972.05a3.1 3.1 0 1 0 6.2 0a3.1 3.1 0 1 0 -6.2 0zM1417.17 971.29a3.1 3.1 0 1 0 6.2 0a3.1 3.1 0 1 0 -6.2 0zM1406.02 993.59a3.1 3.1 0 1 0 6.2 0a3.1 3.1 0 1 0 -6.2 0zM1406.02 1008.55a3.1 3.1 0 1 0 6.2 0a3.1 3.1 0 1 0 -6.2 0zM1406.02 1036.43a3.1 3.1 0 1 0 6.2 0a3.1 3.1 0 1 0 -6.2 0zM1566.2 933.27a3.1 3.1 0 1 0 6.2 0a3.1 3.1 0 1 0 -6.2 0zM1566.2 973.32a3.1 3.1 0 1 0 6.2 0a3.1 3.1 0 1 0 -6.2 0zM1577.36 975.85a3.1 3.1 0 1 0 6.2 0a3.1 3.1 0 1 0 -6.2 0zM1577.36 991.06a3.1 3.1 0 1 0 6.2 0a3.1 3.1 0 1 0 -6.2 0zM1566.2 993.59a3.1 3.1 0 1 0 6.2 0a3.1 3.1 0 1 0 -6.2 0zM1566.2 1007.53a3.1 3.1 0 1 0 6.2 0a3.1 3.1 0 1 0 -6.2 0zM1555.05 1020.71a3.1 3.1 0 1 0 6.2 0a3.1 3.1 0 1 0 -6.2 0zM1577.36 1021.47a3.1 3.1 0 1 0 6.2 0a3.1 3.1 0 1 0 -6.2 0zM1555.05 1032.12a3.1 3.1 0 1 0 6.2 0a3.1 3.1 0 1 0 -6.2 0zM1566.2 1031.61a3.1 3.1 0 1 0 6.2 0a3.1 3.1 0 1 0 -6.2 0zM1577.36 1035.41a3.1 3.1 0 1 0 6.2 0a3.1 3.1 0 1 0 -6.2 0zM1555.05 1040.48a3.1 3.1 0 1 0 6.2 0a3.1 3.1 0 1 0 -6.2 0zM1577.36 1043.01a3.1 3.1 0 1 0 6.2 0a3.1 3.1 0 1 0 -6.2 0zM1566.2 1051.38a3.1 3.1 0 1 0 6.2 0a3.1 3.1 0 1 0 -6.2 0zM1566.2 1059.49a3.1 3.1 0 1 0 6.2 0a3.1 3.1 0 1 0 -6.2 0zM1577.36 1059.49a3.1 3.1 0 1 0 6.2 0a3.1 3.1 0 1 0 -6.2 0zM1555.05 1064.56a3.1 3.1 0 1 0 6.2 0a3.1 3.1 0 1 0 -6.2 0zM1555.05 1071.66a3.1 3.1 0 1 0 6.2 0a3.1 3.1 0 1 0 -6.2 0zM1577.36 1074.19a3.1 3.1 0 1 0 6.2 0a3.1 3.1 0 1 0 -6.2 0zM1566.2 1084.33a3.1 3.1 0 1 0 6.2 0a3.1 3.1 0 1 0 -6.2 0zM1555.05 1094.47a3.1 3.1 0 1 0 6.2 0a3.1 3.1 0 1 0 -6.2 0zM1566.2 1095.48a3.1 3.1 0 1 0 6.2 0a3.1 3.1 0 1 0 -6.2 0zM1566.2 1151.84a3.1 3.1 0 1 0 6.2 0a3.1 3.1 0 1 0 -6.2 0zM1725.68 1186.91a3.1 3.1 0 1 0 6.2 0a3.1 3.1 0 1 0 -6.2 0zM1725.68 1294.4a3.1 3.1 0 1 0 6.2 0a3.1 3.1 0 1 0 -6.2 0zM1714.96 1321.1a3.1 3.1 0 1 0 6.2 0a3.1 3.1 0 1 0 -6.2 0zM1725.68 1323.29a3.1 3.1 0 1 0 6.2 0a3.1 3.1 0 1 0 -6.2 0zM1704.01 1336.87a3.1 3.1 0 1 0 6.2 0a3.1 3.1 0 1 0 -6.2 0zM1714.96 1334.68a3.1 3.1 0 1 0 6.2 0a3.1 3.1 0 1 0 -6.2 0zM1725.68 1339.71a3.1 3.1 0 1 0 6.2 0a3.1 3.1 0 1 0 -6.2 0zM1704.01 1349.12a3.1 3.1 0 1 0 6.2 0a3.1 3.1 0 1 0 -6.2 0zM1714.96 1347.81a3.1 3.1 0 1 0 6.2 0a3.1 3.1 0 1 0 -6.2 0zM1725.68 1351.75a3.1 3.1 0 1 0 6.2 0a3.1 3.1 0 1 0 -6.2 0zM1714.96 1355.69a3.1 3.1 0 1 0 6.2 0a3.1 3.1 0 1 0 -6.2 0zM1725.68 1360.95a3.1 3.1 0 1 0 6.2 0a3.1 3.1 0 1 0 -6.2 0zM1704.01 1365.32a3.1 3.1 0 1 0 6.2 0a3.1 3.1 0 1 0 -6.2 0zM1714.96 1362.7a3.1 3.1 0 1 0 6.2 0a3.1 3.1 0 1 0 -6.2 0zM1736.41 1362.7a3.1 3.1 0 1 0 6.2 0a3.1 3.1 0 1 0 -6.2 0zM1714.96 1368.83a3.1 3.1 0 1 0 6.2 0a3.1 3.1 0 1 0 -6.2 0zM1704.01 1372.55a3.1 3.1 0 1 0 6.2 0a3.1 3.1 0 1 0 -6.2 0zM1714.96 1374.74a3.1 3.1 0 1 0 6.2 0a3.1 3.1 0 1 0 -6.2 0zM1704.01 1378.46a3.1 3.1 0 1 0 6.2 0a3.1 3.1 0 1 0 -6.2 0zM1714.96 1380.65a3.1 3.1 0 1 0 6.2 0a3.1 3.1 0 1 0 -6.2 0zM1725.68 1381.3a3.1 3.1 0 1 0 6.2 0a3.1 3.1 0 1 0 -6.2 0zM1736.41 1381.3a3.1 3.1 0 1 0 6.2 0a3.1 3.1 0 1 0 -6.2 0zM1704.01 1384.59a3.1 3.1 0 1 0 6.2 0a3.1 3.1 0 1 0 -6.2 0zM1714.96 1387.22a3.1 3.1 0 1 0 6.2 0a3.1 3.1 0 1 0 -6.2 0zM1725.68 1389.4a3.1 3.1 0 1 0 6.2 0a3.1 3.1 0 1 0 -6.2 0zM1736.41 1389.4a3.1 3.1 0 1 0 6.2 0a3.1 3.1 0 1 0 -6.2 0zM1704.01 1391.16a3.1 3.1 0 1 0 6.2 0a3.1 3.1 0 1 0 -6.2 0z" fill="#0a0a0a"/>
<rect x="1710.4" y="780.4" width="6.4" height="6" fill="#a51d1d"/>
<circle cx="1715.3" cy="818.4" r="3.2" fill="#0a0a0a"/>
<text x="1726.2" y="791.4" font-size="38" font-weight="bold" textLength="87.5" lengthAdjust="spacingAndGlyphs">MDD</text>
<text x="1726.2" y="831.8" font-size="38" font-weight="bold" textLength="55.3" lengthAdjust="spacingAndGlyphs">HC</text>
<text font-size="37.5" text-anchor="end" font-weight="bold" transform="translate(1463.7 1425.2) rotate(-19)" textLength="178.04" lengthAdjust="spacingAndGlyphs">Firmicutes</text>
<text font-size="37.5" text-anchor="end" font-weight="bold" transform="translate(1630.4 1422.8) rotate(-20)" textLength="222.38" lengthAdjust="spacingAndGlyphs">Bacteroidetes</text>
<text font-size="37.5" text-anchor="end" font-weight="bold" transform="translate(1801 1409.6) rotate(-20)" textLength="244.56" lengthAdjust="spacingAndGlyphs">Actinobacteria</text>
</g>
<g id="panel-d">
<rect x="39" y="1556" width="1874" height="826.3" fill="#fff" stroke="#000" stroke-width="2"/>
<text font-size="60" font-weight="bold" x="57.6" y="1623.2" textLength="32.2" lengthAdjust="spacingAndGlyphs">d</text>
<text font-size="36.5" text-anchor="middle" font-weight="bold" transform="translate(82.2 1805.6) rotate(-90)" textLength="148" lengthAdjust="spacingAndGlyphs">Taxnomy</text>
<rect x="507.9" y="1580.7" width="475.2" height="720" fill="#fff" stroke="#222" stroke-width="1.4"/>
<g fill="#a9ebdf" stroke="#111" stroke-width="2">
<rect x="528.6" y="1598" width="433.8" height="104.2"/>
<rect x="528.6" y="1714.3" width="407.9" height="104.3"/>
<rect x="528.6" y="1830.1" width="389.4" height="104.9"/>
<rect x="528.6" y="1946.5" width="356.6" height="104.8"/>
<rect x="528.6" y="2062.8" width="354.9" height="104.3"/>
<rect x="528.6" y="2179.2" width="341.6" height="104.3"/>
</g>
<path d="M503.5 1650.1h4.4M503.5 1766.45h4.4M503.5 1882.55h4.4M503.5 1998.9h4.4M503.5 2114.95h4.4M503.5 2231.35h4.4M528.6 2300.7v4.5M612.24 2300.7v4.5M695.88 2300.7v4.5M779.52 2300.7v4.5M863.16 2300.7v4.5M946.8 2300.7v4.5" fill="none" stroke="#333" stroke-width="1.2"/>
<text font-size="18" text-anchor="middle" x="529.6" y="2322.3" stroke="#111" stroke-width="0.2">0</text>
<text font-size="18" text-anchor="middle" x="613.24" y="2322.3" stroke="#111" stroke-width="0.2">10</text>
<text font-size="18" text-anchor="middle" x="696.88" y="2322.3" stroke="#111" stroke-width="0.2">20</text>
<text font-size="18" text-anchor="middle" x="780.52" y="2322.3" stroke="#111" stroke-width="0.2">30</text>
<text font-size="18" text-anchor="middle" x="864.16" y="2322.3" stroke="#111" stroke-width="0.2">40</text>
<text font-size="18" text-anchor="middle" x="947.8" y="2322.3" stroke="#111" stroke-width="0.2">50</text>
<text font-size="40.5" font-weight="bold" x="548.6" y="2353.7" textLength="400.5" lengthAdjust="spacingAndGlyphs">MeanDecreaseAccuracy</text>
<text font-size="39.5" x="104.7" y="1638.1" textLength="393.3" lengthAdjust="spacingAndGlyphs" stroke="#111" stroke-width="0.45">Ruminococcus sp CAG 9</text>
<text font-size="39.5" x="104.7" y="1685.3" textLength="201.6" lengthAdjust="spacingAndGlyphs" stroke="#111" stroke-width="0.45">related 41 34</text>
<text font-size="39.5" x="194" y="1756.2" textLength="301.8" lengthAdjust="spacingAndGlyphs" stroke="#111" stroke-width="0.45">Leptotrichia sp oral</text>
<text font-size="39.5" x="194" y="1802.3" textLength="151.5" lengthAdjust="spacingAndGlyphs" stroke="#111" stroke-width="0.45">taxon 498</text>
<text font-size="39.5" x="129.4" y="1893.8" textLength="369.9" lengthAdjust="spacingAndGlyphs" stroke="#111" stroke-width="0.45">Veillonella sp CAG 933</text>
<text font-size="39.5" x="92" y="1987.8" textLength="406" lengthAdjust="spacingAndGlyphs" stroke="#111" stroke-width="0.45">Sutterella wadsworthensis</text>
<text font-size="39.5" x="92" y="2033.8" textLength="145.7" lengthAdjust="spacingAndGlyphs" stroke="#111" stroke-width="0.45">CAG 135</text>
<text font-size="39.5" x="137" y="2124.3" textLength="362.3" lengthAdjust="spacingAndGlyphs" stroke="#111" stroke-width="0.45">Butyrivibrio sp INlla14</text>
<text font-size="39.5" x="110.4" y="2242.4" textLength="389.4" lengthAdjust="spacingAndGlyphs" stroke="#111" stroke-width="0.45">Arcobacter lekithochrous</text>
</g>
<g id="panel-e">
<text x="1068" y="1623.5" font-size="62" font-weight="bold">e</text>
<rect x="1180.3" y="1611.5" width="679.9" height="652.7" fill="#fff" stroke="#0a0a0a" stroke-width="1.9"/>
<polygon points="1205.2,2240 1205.2,1666.2 1362.67,1666.2 1362.67,1636 1835.1,1636 1835.1,2240" fill="#dcdcde" stroke="#2a2a2a" stroke-width="1.4"/>
<polygon points="1205.2,1636 1205.2,1726.6 1362.67,1726.6 1394.17,1696.4 1425.66,1696.4 1457.16,1666.2 1488.65,1636" fill="#c3f0bd" stroke="#111" stroke-width="1.2"/>
<rect x="1205.2" y="1636" width="157.47" height="30.2" fill="#dbf6cd"/>
<path d="M1205.2 1636V1726.6M1199.2 1726.6h12M1199.2 1636h12M1236.7 1636V1726.6M1230.7 1726.6h12M1230.7 1636h12M1268.19 1636V1726.6M1262.19 1726.6h12M1262.19 1636h12M1299.68 1636V1726.6M1293.68 1726.6h12M1293.68 1636h12M1331.18 1636V1726.6M1325.18 1726.6h12M1325.18 1636h12M1362.67 1636V1726.6M1356.67 1726.6h12M1356.67 1636h12M1394.17 1636V1696.4M1388.17 1696.4h12M1388.17 1636h12M1425.66 1636V1696.4M1419.66 1696.4h12M1419.66 1636h12M1457.16 1636V1666.2M1451.16 1666.2h12M1451.16 1636h12" fill="none" stroke="#111" stroke-width="1.2"/>
<path d="M1180.3 2264.2L1860.2 1611.5" stroke="#9a9a9a" stroke-width="1.2" fill="none"/>
<polyline points="1205.2,2240 1205.2,1666.2 1362.67,1666.2 1362.67,1636 1835.1,1636" fill="none" stroke="#e0261c" stroke-width="3"/>
<path d="M1835.1 2264.2v12M1709.12 2264.2v12M1583.14 2264.2v12M1457.16 2264.2v12M1331.18 2264.2v12M1205.2 2264.2v12M1180.3 2240h-12M1180.3 2119.2h-12M1180.3 1998.4h-12M1180.3 1877.6h-12M1180.3 1756.8h-12M1180.3 1636h-12" fill="none" stroke="#0a0a0a" stroke-width="1.8"/>
<text font-size="22.5" text-anchor="middle" x="1835.7" y="2305.4">0</text>
<text font-size="22.5" text-anchor="middle" x="1709.72" y="2305.4">20</text>
<text font-size="22.5" text-anchor="middle" x="1583.74" y="2305.4">40</text>
<text font-size="22.5" text-anchor="middle" x="1457.76" y="2305.4">60</text>
<text font-size="22.5" text-anchor="middle" x="1331.78" y="2305.4">80</text>
<text font-size="22.5" text-anchor="middle" x="1205.8" y="2305.4">100</text>
<text font-size="22.4" text-anchor="middle" transform="translate(1151.3 2240) rotate(-90)" textLength="10" lengthAdjust="spacingAndGlyphs">0</text>
<text font-size="22.4" text-anchor="middle" transform="translate(1151.3 2119.2) rotate(-90)" textLength="20" lengthAdjust="spacingAndGlyphs">20</text>
<text font-size="22.4" text-anchor="middle" transform="translate(1151.3 1998.4) rotate(-90)" textLength="20" lengthAdjust="spacingAndGlyphs">40</text>
<text font-size="22.4" text-anchor="middle" transform="translate(1151.3 1877.6) rotate(-90)" textLength="20" lengthAdjust="spacingAndGlyphs">60</text>
<text font-size="22.4" text-anchor="middle" transform="translate(1151.3 1756.8) rotate(-90)" textLength="20" lengthAdjust="spacingAndGlyphs">80</text>
<text font-size="22.4" text-anchor="middle" transform="translate(1151.3 1634.3) rotate(-90)" textLength="30" lengthAdjust="spacingAndGlyphs">100</text>
<text font-size="39.5" font-weight="bold" x="1398.6" y="2355.3" textLength="246.6" lengthAdjust="spacingAndGlyphs">Specificity (%)</text>
<text font-size="39.5" text-anchor="middle" font-weight="bold" transform="translate(1127 1933) rotate(-90)" textLength="245" lengthAdjust="spacingAndGlyphs">Sensitivity (%)</text>
<rect x="1501" y="2135" width="312" height="103" fill="#e0e0e2"/>
<text font-size="41" text-anchor="end" x="1813.4" y="2183.6" textLength="238.6" lengthAdjust="spacingAndGlyphs" stroke="#111" stroke-width="0.4">AUC= 98.75 %</text>
<text font-size="41" text-anchor="end" x="1813.4" y="2227" textLength="399.5" lengthAdjust="spacingAndGlyphs" stroke="#111" stroke-width="0.4">95% CI: 96.11 %− 100 %</text>
<path d="M1815 2144.8h11.5V2231.5h-11.5" fill="none" stroke="#222" stroke-width="1.2"/>
</g>
</svg></body></html>
